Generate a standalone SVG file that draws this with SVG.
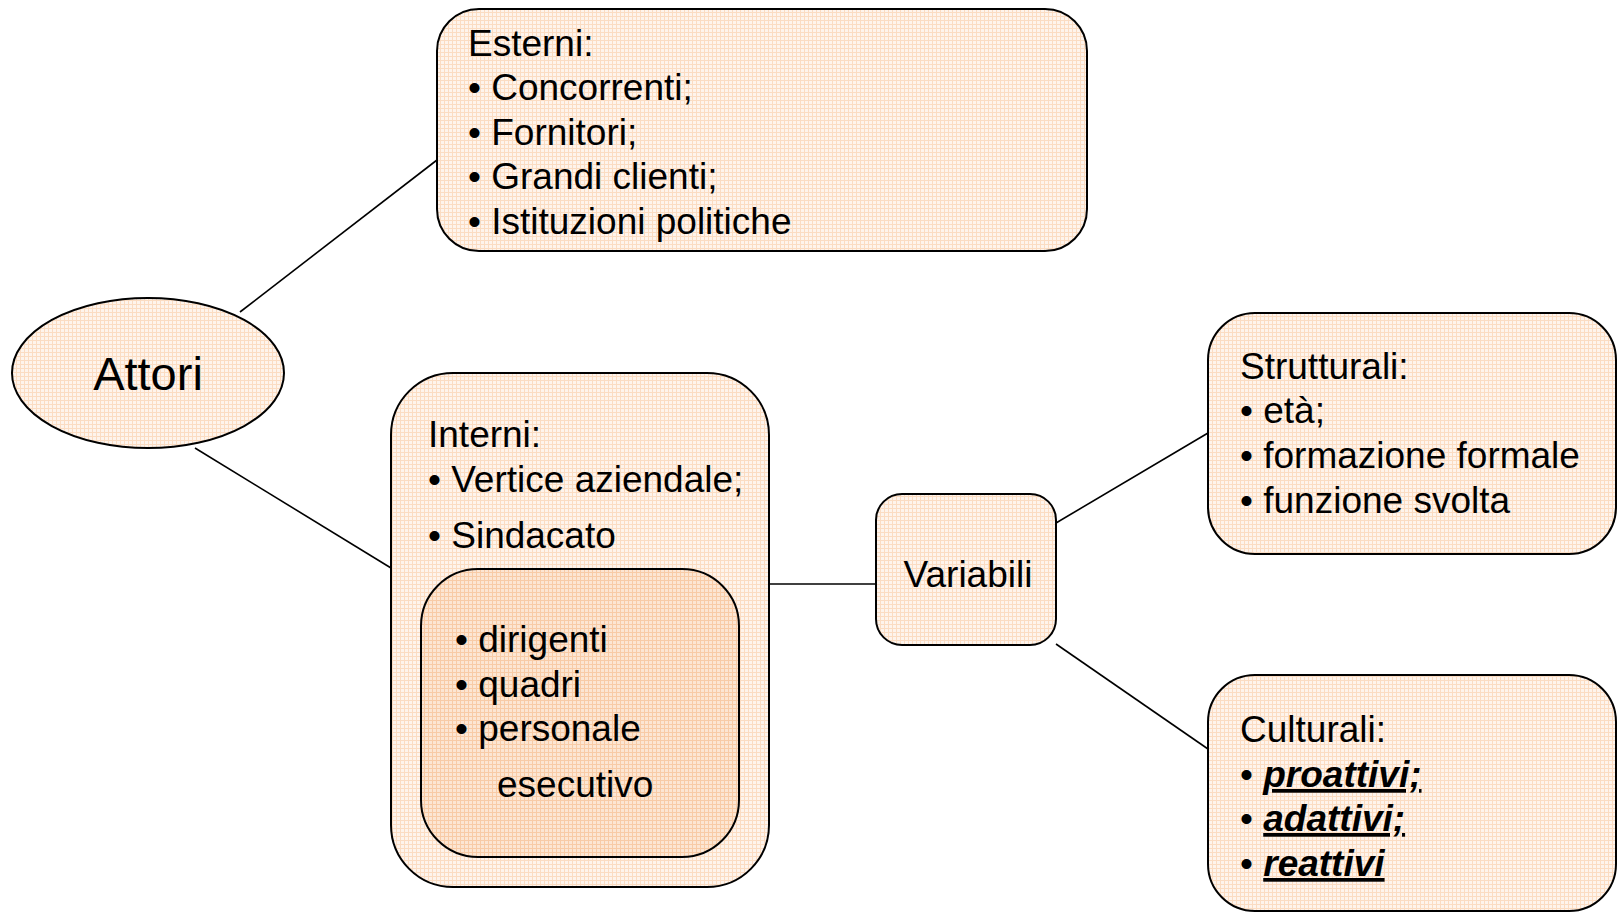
<svg xmlns="http://www.w3.org/2000/svg" width="1623" height="913" viewBox="0 0 1623 913">
<defs>
<pattern id="grid" width="4" height="4" patternUnits="userSpaceOnUse">
<rect width="4" height="4" fill="#FEF4EC"/>
<rect x="0" y="0" width="4" height="1" fill="#FBDCC2"/>
<rect x="0" y="0" width="1" height="4" fill="#FBDCC2"/>
</pattern>
<pattern id="grid2" width="4" height="4" patternUnits="userSpaceOnUse">
<rect width="4" height="4" fill="#FCE6D3"/>
<rect x="0" y="0" width="4" height="1" fill="#F8CBA6"/>
<rect x="0" y="0" width="1" height="4" fill="#F8CBA6"/>
</pattern>
<style>
.n{fill:url(#grid);stroke:#000;stroke-width:2}
.n2{fill:url(#grid2);stroke:#000;stroke-width:2}
.t{font-family:"Liberation Sans",Arial,sans-serif;font-size:37px;fill:#000}
.b{font-weight:bold;font-style:italic;text-decoration:underline}
.c{stroke:#000;stroke-width:1.6;fill:none}
</style>
</defs>
<rect width="1623" height="913" fill="#fff"/>
<g id="connectors">
<line class="c" x1="240" y1="312" x2="437" y2="160"/>
<line class="c" x1="195" y1="448" x2="391" y2="568"/>
<line class="c" x1="769" y1="584" x2="876" y2="584"/>
<line class="c" x1="1056" y1="523" x2="1208" y2="433"/>
<line class="c" x1="1056" y1="644" x2="1208" y2="749"/>
</g>
<g id="attori">
<ellipse class="n" cx="148" cy="373" rx="136" ry="75"/>
<text class="t" x="148" y="390" text-anchor="middle" style="font-size:47px">Attori</text>
</g>
<g id="esterni">
<rect class="n" x="437" y="9" width="650" height="242" rx="42"/>
<text class="t" x="468" y="56">Esterni:</text>
<text class="t" x="468" y="100">• Concorrenti;</text>
<text class="t" x="468" y="145">• Fornitori;</text>
<text class="t" x="468" y="189">• Grandi clienti;</text>
<text class="t" x="468" y="234">• Istituzioni politiche</text>
</g>
<g id="interni">
<rect class="n" x="391" y="373" width="378" height="514" rx="62"/>
<text class="t" x="428" y="447">Interni:</text>
<text class="t" x="428" y="492">• Vertice aziendale;</text>
<text class="t" x="428" y="548">• Sindacato</text>
</g>
<g id="personale">
<rect class="n2" x="421" y="569" width="318" height="288" rx="57"/>
<text class="t" x="455" y="652">• dirigenti</text>
<text class="t" x="455" y="697">• quadri</text>
<text class="t" x="455" y="741">• personale</text>
<text class="t" x="497" y="797">esecutivo</text>
</g>
<g id="variabili">
<rect class="n" x="876" y="494" width="180" height="151" rx="26"/>
<text class="t" x="968" y="587" text-anchor="middle">Variabili</text>
</g>
<g id="strutturali">
<rect class="n" x="1208" y="313" width="408" height="241" rx="47"/>
<text class="t" x="1240" y="379">Strutturali:</text>
<text class="t" x="1240" y="423">• età;</text>
<text class="t" x="1240" y="468">• formazione formale</text>
<text class="t" x="1240" y="513">• funzione svolta</text>
</g>
<g id="culturali">
<rect class="n" x="1208" y="675" width="408" height="236" rx="47"/>
<text class="t" x="1240" y="742">Culturali:</text>
<text class="t" x="1240" y="787">• <tspan class="b">proattivi;</tspan></text>
<text class="t" x="1240" y="831">• <tspan class="b">adattivi;</tspan></text>
<text class="t" x="1240" y="876">• <tspan class="b">reattivi</tspan></text>
</g>
</svg>
